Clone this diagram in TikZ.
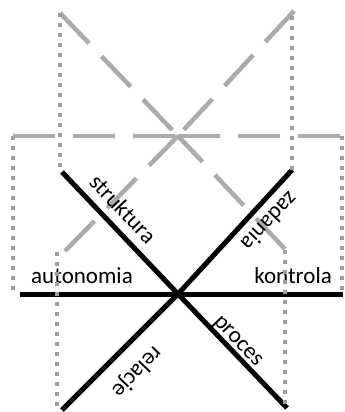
\documentclass[tikz,border=0pt]{standalone}
\usepackage{fontspec}
\setmainfont{Carlito}
\begin{document}
\begin{tikzpicture}[x=1pt,y=-1pt,
  greydash/.style={draw=black!33, line width=4.5pt, dash pattern=on 42pt off 18pt},
  blackline/.style={draw=black, line width=5pt},
  dotline/.style={draw=black!38, line width=4pt, dash pattern=on 4pt off 6pt},
  lbl/.style={font=\fontsize{23}{28}\selectfont, inner sep=0pt, text=black}]
\useasboundingbox (0,0) rectangle (345,412);
% grey (upper) cross
\coordinate (G) at (178,136);
\coordinate (gTL) at (60,13);
\coordinate (gTR) at (294,11);
\coordinate (gBL) at (65,251);
\coordinate (gBR) at (285,249);
\coordinate (gL) at (13,136);
\coordinate (gR) at (340,136);
% black (lower) cross
\coordinate (C) at (178,294);
\coordinate (bTL) at (62,172);
\coordinate (bTR) at (292,170);
\coordinate (bBL) at (62,410);
\coordinate (bBR) at (287,408);
\coordinate (bL) at (20,294);
\coordinate (bR) at (343,294);
% dotted projection ends
\coordinate (vTLa) at (60,13);   \coordinate (vTLb) at (60,172);
\coordinate (vTRa) at (292,16);  \coordinate (vTRb) at (292,170);
\coordinate (vLa) at (13,136);   \coordinate (vLb) at (13,294);
\coordinate (vRa) at (342,136);  \coordinate (vRb) at (342,294);
\coordinate (vBLa) at (57,252);  \coordinate (vBLb) at (57,410);
\coordinate (vBRa) at (285,250); \coordinate (vBRb) at (285,406);

\draw[greydash] (gTL) -- (G);
\draw[greydash] (gTR) -- (G);
\draw[greydash] (gBL) -- (G);
\draw[greydash] (gBR) -- (G);
\draw[greydash] (gL) -- (G);
\draw[greydash] (gR) -- (G);

\draw[blackline] (bTL) -- (C) -- (bBR);
\draw[blackline] (bTR) -- (C) -- (bBL);
\draw[blackline] (bL) -- (C) -- (bR);

\node[lbl, anchor=base west] (autonomia) at (31,283) {autonomia};
\node[lbl, anchor=base east] (kontrola) at (332,283) {kontrola};
\node[lbl, anchor=base, rotate=-46.5] (struktura) at (117.4,214.3) {struktura};
\node[lbl, anchor=base, rotate=-46.5] (proces) at (234.4,344.6) {proces};
\node[lbl, anchor=base, rotate=-133.8] (zadania) at (264.2,216.4) {zadania};
\node[lbl, anchor=base, rotate=-133.8] (relacje) at (132.4,367.7) {relacje};

\draw[dotline] (vTLa) -- (vTLb);
\draw[dotline] (vTRa) -- (vTRb);
\draw[dotline] (vLa) -- (vLb);
\draw[dotline] (vRa) -- (vRb);
\draw[dotline] (vBLa) -- (vBLb);
\draw[dotline] (vBRa) -- (vBRb);
\end{tikzpicture}
\end{document}
